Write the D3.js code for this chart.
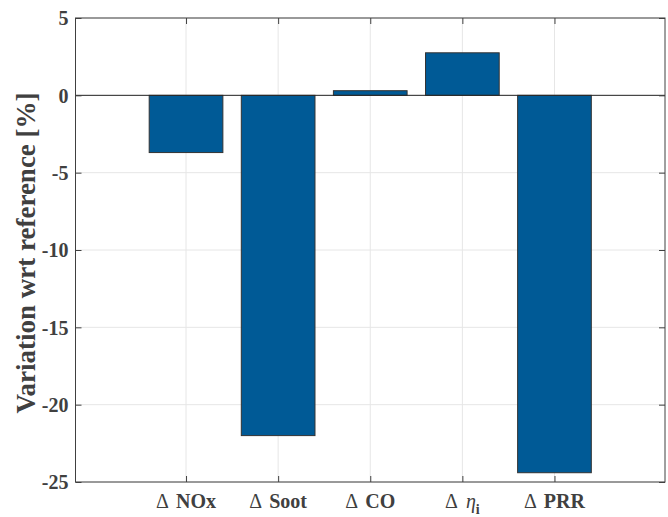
<!DOCTYPE html>
<html><head><meta charset="utf-8">
<script src="https://cdn.jsdelivr.net/npm/d3@7"></script>
<style>body{margin:0;background:#fff}svg{display:block}text{font-family:"Liberation Serif","Times New Roman",serif;font-weight:bold}</style>
</head><body>
<svg id="c" width="668" height="517"></svg>
<script>
const categories = ["NOx", "Soot", "CO", "eta", "PRR"];
const values = [-3.7, -22.0, 0.3, 2.75, -24.4];
const yTicks = [5, 0, -5, -10, -15, -20, -25];

const svg = d3.select("#c");
const L = 75.5, R = 665, T = 18, B = 482;
const x = d3.scaleLinear().domain([-0.2, 6.2]).range([L, R]);
const y = d3.scaleLinear().domain([-25, 5]).range([B, T]);
const idx = categories.map((_, i) => i + 1);
const axisCol = "#404040";

// grid
const g = svg.append("g");
g.selectAll(".gy").data(yTicks).join("line")
  .attr("x1", L).attr("x2", R).attr("y1", d => y(d)).attr("y2", d => y(d))
  .attr("stroke", "#e6e6e6").attr("stroke-width", 1);
g.selectAll(".gx").data(idx).join("line")
  .attr("x1", d => x(d)).attr("x2", d => x(d)).attr("y1", T).attr("y2", B)
  .attr("stroke", "#e6e6e6").attr("stroke-width", 1);

// bars
const bw = x(0.8) - x(0);
svg.append("g").selectAll("rect").data(values).join("rect")
  .attr("x", (d, i) => x(i + 1) - bw / 2)
  .attr("width", bw)
  .attr("y", d => y(Math.max(0, d)))
  .attr("height", d => Math.abs(y(d) - y(0)))
  .attr("fill", "#005a96").attr("stroke", "#333").attr("stroke-width", 1);

// baseline
svg.append("line").attr("x1", L).attr("x2", R).attr("y1", y(0)).attr("y2", y(0))
  .attr("stroke", "#262626").attr("stroke-width", 1);

// axes
const yAx = d3.axisLeft(y).tickValues(yTicks).tickSize(-6).tickPadding(7).tickFormat(d => String(d));
const ya = svg.append("g").attr("transform", `translate(${L},0)`).call(yAx);
ya.select(".domain").remove();
ya.selectAll("line").attr("stroke", axisCol);
ya.selectAll("text").attr("fill", axisCol).attr("font-size", 20).attr("dy", "0.34em");

const yr = svg.append("g").attr("transform", `translate(${R},0)`).call(d3.axisRight(y).tickValues(yTicks).tickSize(-6).tickFormat(""));
yr.select(".domain").remove();
yr.selectAll("line").attr("stroke", axisCol);

const xAx = d3.axisBottom(x).tickValues(idx).tickSize(-6).tickFormat("");
const xa = svg.append("g").attr("transform", `translate(0,${B})`).call(xAx);
xa.select(".domain").remove();
xa.selectAll("line").attr("stroke", axisCol);
const xt = svg.append("g").call(d3.axisTop(x).tickValues(idx).tickSize(-6).tickFormat("")).attr("transform", `translate(0,${T})`);
xt.select(".domain").remove();
xt.selectAll("line").attr("stroke", axisCol);

// box
svg.append("rect").attr("x", L).attr("y", T).attr("width", R - L).attr("height", B - T)
  .attr("fill", "none").attr("stroke", axisCol).attr("stroke-width", 1);

// x labels
const lab = svg.append("g");
categories.forEach((c, i) => {
  const t = lab.append("text").attr("x", x(i + 1)).attr("y", 508).attr("text-anchor", "middle")
    .attr("font-size", 20).attr("fill", axisCol);
  t.append("tspan").text("Δ").style("font-weight", "normal");
  if (c === "eta") {
    t.append("tspan").attr("dx", 8).text("η").style("font-style", "italic").style("font-weight", "normal");
    t.append("tspan").text("i").attr("font-size", 14).attr("dy", 6);
  } else {
    t.append("tspan").attr("dx", 7).text(c);
  }
});

// y label
svg.append("text").attr("transform", `translate(35,${(T + B) / 2 + 3}) rotate(-90)`)
  .attr("text-anchor", "middle").attr("font-size", 27).attr("fill", axisCol)
  .text("Variation wrt reference [%]");
</script>
</body></html>
